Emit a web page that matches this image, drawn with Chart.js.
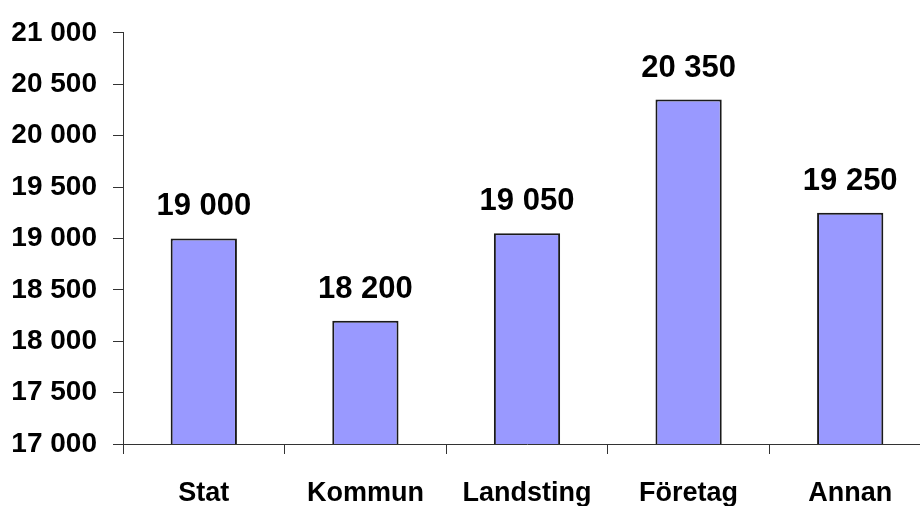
<!doctype html>
<html>
<head>
<meta charset="UTF-8">
<title>Bar chart</title>
<script src="https://cdn.jsdelivr.net/npm/chart.js@4.4.1/dist/chart.umd.min.js"></script>
<style>
html, body{
	margin:0;
	background:#fff;
	overflow:hidden;
}
/* plot runs a little past the right edge, like the original */
.wrap{
	width:931px;
	height:506px;
	position:relative;
}
</style>
</head>
<body>

<div class="wrap"><canvas id="BarChart"></canvas></div>

<script>

// data
var categories = ['Stat', 'Kommun', 'Landsting', 'Företag', 'Annan'];
var values = [19000, 18200, 19050, 20350, 19250];
var yMin = 17000;
var yMax = 21000;
var yStep = 500;

var FONT = '"Liberation Sans", Arial, sans-serif';

// 21000 -> "21 000"
function fmt(v) {
	return String(v).replace(/\B(?=(\d{3})+(?!\d))/g, ' ');
}

// value labels above bars
var barLabels = {
	id: 'barLabels',
	afterDatasetsDraw: function(chart) {
		var ctx = chart.ctx;
		var meta = chart.getDatasetMeta(0);
		ctx.save();
		ctx.font = 'bold 31px ' + FONT;
		ctx.fillStyle = '#000';
		ctx.textAlign = 'center';
		ctx.textBaseline = 'alphabetic';
		meta.data.forEach(function(bar, i) {
			ctx.fillText(fmt(values[i]), bar.x, bar.y - 23);
		});
		ctx.restore();
	}
};

var ctx = document.getElementById('BarChart');
var chart = new Chart(ctx, {
	type: 'bar',
	data: {
		labels: categories,
		datasets: [{
			data: values,
			backgroundColor: '#9999FF',
			borderColor: '#1a1a1a',
			borderWidth: 2,
			borderSkipped: false,
			categoryPercentage: 1.0,
			barPercentage: 0.41
		}]
	},
	options: {
		responsive: true,
		maintainAspectRatio: false,
		animation: false,
		layout: {
			padding: {top: 30, right: 0, bottom: 0, left: 0}
		},
		plugins: {
			legend: {display: false},
			tooltip: {enabled: false}
		},
		scales: {
			x: {
				grid: {
					offset: true,
					drawOnChartArea: false,
					drawTicks: true,
					tickLength: 10,
					color: '#333'
				},
				border: {display: true, color: '#333', width: 1},
				ticks: {
					color: '#000',
					padding: 23,
					font: {family: FONT, size: 27, weight: 'bold'}
				},
				afterFit: function(scale) {
					scale.height = 62;
				}
			},
			y: {
				min: yMin,
				max: yMax,
				grid: {
					drawOnChartArea: false,
					drawTicks: true,
					tickLength: 10,
					color: '#333'
				},
				border: {display: true, color: '#333', width: 1},
				ticks: {
					stepSize: yStep,
					color: '#000',
					padding: 16,
					font: {family: FONT, size: 28, weight: 'bold'},
					callback: function(v) { return fmt(v); }
				},
				afterFit: function(scale) {
					scale.width = 123;
				}
			}
		}
	},
	plugins: [barLabels]
});

</script>

</body>
</html>
